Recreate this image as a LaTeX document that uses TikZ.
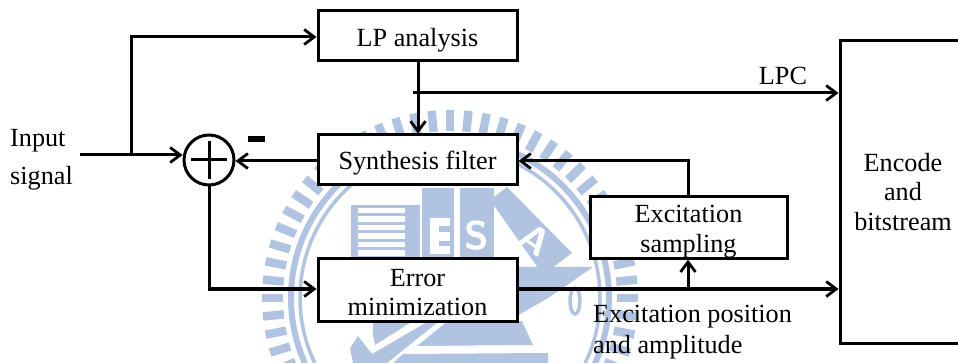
\documentclass[tikz,border=0pt]{standalone}
\usepackage{fontspec}
\setmainfont{Liberation Serif}
\usetikzlibrary{arrows.meta}
\definecolor{wm}{HTML}{B0C3E0}
\newcommand{\tnr}{\fontsize{26.2}{29.5}\selectfont}
\tikzset{
  wire/.style={line width=3pt,line join=miter},
  arr/.style={wire,-{Straight Barb[length=10pt,width=15pt,line width=2.8pt]}},
  blockbox/.style={draw=black,line width=3pt,fill=white,inner sep=0pt,align=center,font=\tnr,anchor=north west},
  lab/.style={inner sep=0pt,align=left,font=\tnr}
}
\begin{document}
\begin{tikzpicture}[x=1pt,y=-1pt]
\useasboundingbox (0,0) rectangle (958,363);
% watermark
\begin{scope}
\clip (0,0) rectangle (958,363);
\foreach \a in {0,5.625,...,355}
  \draw[wm,line width=8.5pt] ({450+167*cos(\a)},{298+167*sin(\a)}) -- ({450+188*cos(\a)},{298+188*sin(\a)});
\draw[wm,line width=6pt] (450,298) circle[radius=159];
\draw[wm,line width=3.5pt] (450,298) circle[radius=150];
% books
\fill[wm] (351,205) rectangle (420,262);
\foreach \k in {0,1,...,5}
  \fill[white] (358,208+8.5*\k) rectangle (405,213.5+8.5*\k);
\fill[wm] (422,188) rectangle (454,262);
\fill[wm] (460,188) rectangle (494,262);
\fill[white] (430,218) rectangle (450,254);
\fill[wm] (439,226) rectangle (450,232);
\fill[wm] (439,241) rectangle (450,246);
\node[font=\sffamily\bfseries\fontsize{40}{40}\selectfont,text=white,inner sep=0pt] (wmS) at (477,236) {S};
\fill[wm] (490,200) -- (507,187) -- (572,253) -- (543,275) -- cycle;
\node[font=\sffamily\bfseries\fontsize{38}{38}\selectfont,text=white,inner sep=0pt,rotate=-35] (wmA) at (535,240) {A};
\fill[wm] (517,267) -- (593,267) -- (570,283) -- (548,298) -- (517,316) -- cycle;
\fill[wm] (448,321) -- (522,321) -- (533,345) -- (417,346) -- cycle;
\fill[wm] (373,321) -- (413,321) -- (375,345) -- (373,335) -- cycle;
\fill[wm] (350,348) -- (358,336) -- (372,354) -- (427,322) -- (438,322) -- (387,363) -- (353,363) -- cycle;
\fill[wm] (403,354) -- (548,353) -- (548,363) -- (393,363) -- cycle;
\draw[wm,line width=3.5pt] (575,301) ellipse[x radius=5,y radius=13];
\end{scope}
% blocks
\node[blockbox,minimum width=199pt,minimum height=50pt] (lp) at (316.5,9.5) {\rule{0pt}{27pt}LP analysis};
\node[blockbox,minimum width=199pt,minimum height=50pt] (syn) at (316.5,133.5) {\rule{0pt}{25pt}Synthesis filter};
\node[blockbox,minimum width=199pt,minimum height=62pt] (err) at (316.5,257.5) {\rule{0pt}{22pt}Error\\minimization};
\node[blockbox,minimum width=197pt,minimum height=61pt] (exc) at (588.5,195.5) {\rule{0pt}{26pt}Excitation\\sampling};
\node[blockbox,minimum width=127pt,minimum height=302pt] (enc) at (838.5,39.5) {};
\node[lab,align=center] (enctext) at (903,192) {Encode\\and\\bitstream};
\node[draw=black,line width=3pt,circle,minimum size=50pt,inner sep=0pt,fill=white] (sum) at (209,160) {};
\draw[line width=3pt] (sum.center) ++(-18,0) coordinate (pl) -- ++(36,0);
\draw[line width=3pt] (sum.center) ++(0,-19) coordinate (pt) -- ++(0,38);
\fill (248,136) rectangle (265,142);
% labels
\node[lab,anchor=base west] (inp) at (10,147) {Input};
\node[lab,anchor=base west] (sig) at (10,185) {signal};
\node[lab,anchor=base] (lpc) at (783,85) {LPC};
\node[lab,anchor=base west] (ep1) at (593,322) {Excitation position};
\node[lab,anchor=base west] (ep2) at (593,353) {and amplitude};
% coordinates
\coordinate (in) at (80,155);
\coordinate (bra) at (131,155);
\coordinate (up) at (131,37);
\coordinate (lpcs) at (413,93);
\coordinate (lpb) at (418,93);
\coordinate (b2) at (688,289);
\coordinate (e1) at (688,161);
\coordinate (c1) at (209,289);
% connectors
\draw[arr] (in) -- (bra) -- (sum.west |- in);
\draw[arr] (bra) -- (up) -- (lp.west |- up);
\draw[arr] (lp.south -| lpb) -- (syn.north -| lpb);
\draw[arr] (lpcs) -- (enc.west |- lpcs);
\draw[arr] (syn.west |- e1) -- (sum.east |- e1);
\draw[arr] (sum.south) -- (c1) -- (err.west |- c1);
\draw[arr] (err.east |- c1) -- (enc.west |- c1);
\draw[arr] (b2) -- (exc.south -| b2);
\draw[arr] (exc.north -| b2) -- (e1) -- (syn.east |- e1);
\end{tikzpicture}
\end{document}
